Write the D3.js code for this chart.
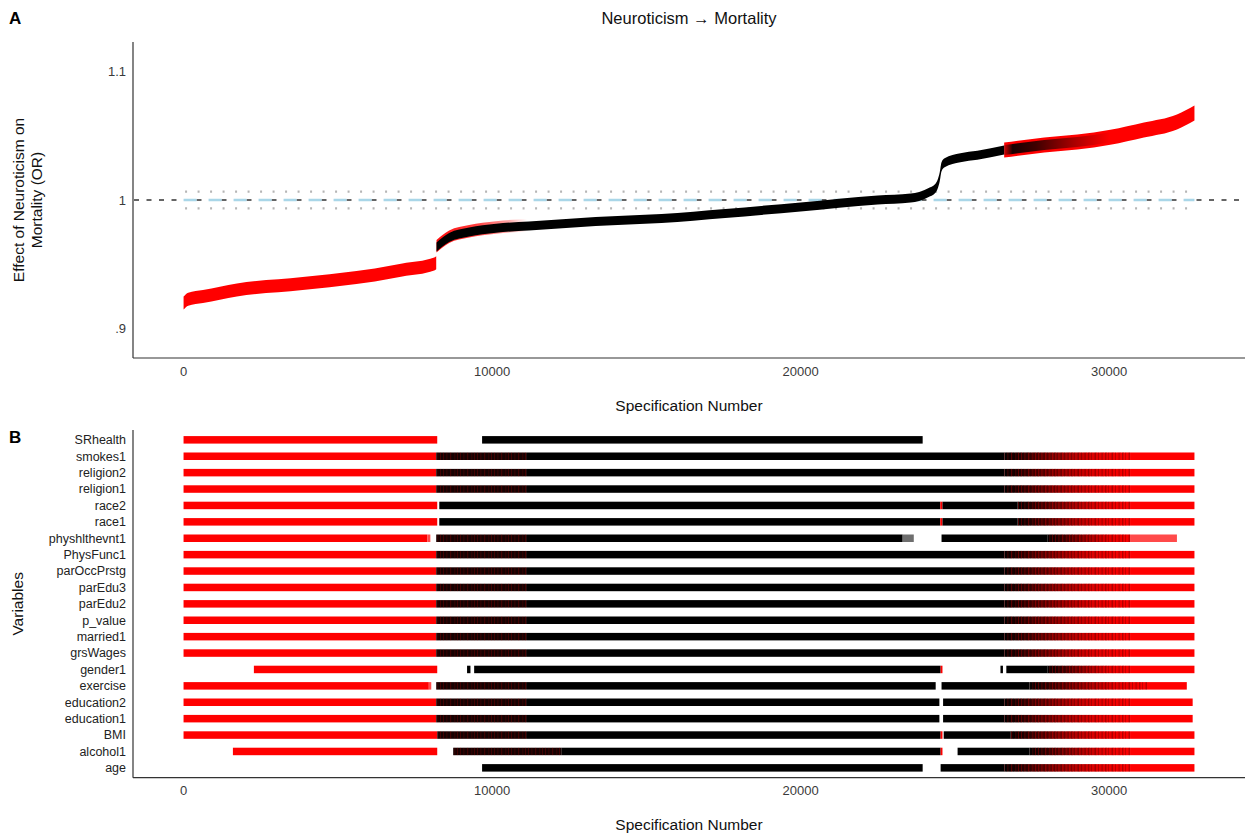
<!DOCTYPE html>
<html>
<head>
<meta charset="utf-8">
<script src="https://cdn.jsdelivr.net/npm/d3@7"></script>
<style>
  body { margin: 0; background: #fff; }
  text { font-family: "Liberation Sans", Arial, sans-serif; }
</style>
</head>
<body>
<svg id="chart" width="1256" height="835"></svg>
<script>
// ---- Specification curve: odds ratio by sorted specification number ----
const curveSpec = [1, 150, 630, 1729, 3861, 5606, 6200, 7092, 8126, 8190,
                   8200, 8610, 9257, 10129, 11195, 13360, 15493, 17560, 20000, 22500,
                   23570, 24120, 24380, 24510, 24570, 24670, 25180, 25730, 26600,
                   27900, 28970, 30040, 31130, 32200, 32768];
const curveOR = [0.9195, 0.9225, 0.9246, 0.9297, 0.9348, 0.9395, 0.9414, 0.9453, 0.9500, 0.9510,
                 0.9633, 0.9707, 0.9750, 0.9780, 0.9797, 0.9832, 0.9855, 0.9895, 0.9945, 1.0000,
                 1.0015, 1.0055, 1.0094, 1.0180, 1.0260, 1.0290, 1.0330, 1.0350, 1.0390,
                 1.0430, 1.0453, 1.0490, 1.0547, 1.0610, 1.0680];

// significance breaks along the curve
const sigLowEnd = 8190;      // last significant (negative) specification
const nonsigStart = 8200;    // first non-significant specification
const sigHighStart = 26600;  // first significant (positive) specification
const mixedEnd = 30040;      // end of the black/red mixed zone
const flecksEnd = 11131;     // end of red flecks above the black band

// null-model reference lines
const nullMedian = 1.0;
const nullBand = [0.9935, 1.0065];

const specRange = [1, 32768];
const xTicks = [0, 10000, 20000, 30000];
const yTicks = [0.9, 1, 1.1];
const yTickLabels = [".9", "1", "1.1"];

// ---- Specification panel: which variables enter each specification ----
const variables = ["SRhealth", "smokes1", "religion2", "religion1", "race2", "race1",
  "physhlthevnt1", "PhysFunc1", "parOccPrstg", "parEdu3", "parEdu2", "p_value",
  "married1", "grsWages", "gender1", "exercise", "education2", "education1",
  "BMI", "alcohol1", "age"];

// [start, end, kind]; kind: red = significant, black = non-significant,
// mixL/mixR = mixed zones, pink = faded red, gray = sparse
const fullRow = [[0, 8190, "red"], [8190, 11131, "mixL"], [11131, 26608, "black"],
                 [26608, 30680, "mixR"], [30680, 32768, "red"]];
const raceRow = [[0, 8223, "red"], [8290, 24530, "black"], [24530, 24600, "red"],
                 [24600, 27030, "black"], [27030, 30680, "mixR"], [30680, 32768, "red"]];
const educationRow = [[0, 8190, "red"], [8190, 11131, "mixL"], [11131, 24500, "black"],
                      [24620, 26608, "black"], [26608, 30680, "mixR"], [30680, 32710, "red"]];

const rowSegments = {
  SRhealth: [[0, 8223, "red"], [9677, 23958, "black"]],
  smokes1: fullRow,
  religion2: fullRow,
  religion1: fullRow,
  race2: raceRow,
  race1: raceRow,
  physhlthevnt1: [[0, 7900, "red"], [7900, 8000, "pink"], [8190, 11131, "mixL"],
                  [11131, 23310, "black"], [23310, 23670, "gray"], [24570, 28000, "black"],
                  [28000, 30680, "mixR"], [30680, 32200, "pink"]],
  PhysFunc1: fullRow,
  parOccPrstg: fullRow,
  parEdu3: fullRow,
  parEdu2: fullRow,
  p_value: fullRow,
  married1: fullRow,
  grsWages: fullRow,
  gender1: [[2280, 8223, "red"], [9190, 9300, "black"], [9420, 24540, "black"],
            [24540, 24600, "red"], [26480, 26560, "black"], [26670, 28000, "black"],
            [28000, 30680, "mixR"], [30680, 32768, "red"]],
  exercise: [[0, 7950, "red"], [7950, 8030, "pink"], [8190, 11131, "mixL"],
             [11131, 24380, "black"], [24570, 27420, "black"], [27420, 31230, "mixR"],
             [31230, 32520, "red"]],
  education2: educationRow,
  education1: educationRow,
  BMI: [[0, 8223, "red"], [8223, 11131, "mixL"], [11131, 24540, "black"],
        [24540, 24600, "red"], [24640, 26800, "black"], [26800, 30680, "mixR"],
        [30680, 32768, "red"]],
  alcohol1: [[1600, 8223, "red"], [8740, 12260, "mixL"], [12260, 24540, "black"],
             [24540, 24600, "red"], [25090, 27420, "black"], [27420, 30680, "mixR"],
             [30680, 32768, "red"]],
  age: [[9677, 23958, "black"], [24540, 26608, "black"], [26608, 30680, "mixR"],
        [30680, 32768, "red"]]
};

// ---- layout ----
const svg = d3.select("#chart");
const defs = svg.append("defs");
const plotLeft = 133, plotRight = 1245;
const topPanel = { top: 42, bottom: 358 };
const botPanel = { top: 430, bottom: 777.7 };
const axisColor = "#333";
const tickColor = "#3a3a3a";

const pad = (specRange[1] - specRange[0] + 1) * 0.05;
const x = d3.scaleLinear().domain([0 - pad, specRange[1] + pad]).range([plotLeft, plotRight]);
const y = d3.scaleLinear().domain([0.8766, 1.1234]).range([topPanel.bottom, topPanel.top]);
const yRow = d3.scalePoint().domain(variables).range([botPanel.top, botPanel.bottom]).padding(0.6);

const curve = curveSpec.map((s, i) => ({ s, v: curveOR[i] }));
const band = h => d3.area()
  .x(d => x(d.s))
  .y0(d => y(d.v) + h)
  .y1(d => y(d.v) - h)
  .curve(d3.curveMonotoneX);

// streak textures for the overlapping red / black tick zones
function streakPattern(id, color, lines) {
  const p = defs.append("pattern").attr("id", id)
    .attr("patternUnits", "userSpaceOnUse").attr("width", 17).attr("height", 20);
  lines.forEach(([lx, lw]) =>
    p.append("rect").attr("x", lx).attr("y", 0).attr("width", lw).attr("height", 20).attr("fill", color));
}
streakPattern("streakRed", "#e00000", [[1, 1], [4.5, 0.8], [8, 1.2], [12.5, 0.7], [15, 1]]);
streakPattern("streakDark", "#1a0000", [[0, 1.3], [3, 0.8], [6.5, 1.5], [10, 0.9], [13.5, 1.2]]);

// panel letters and title
svg.append("text").attr("x", 9).attr("y", 24).attr("font-size", 17).attr("font-weight", "bold").text("A");
svg.append("text").attr("x", 9).attr("y", 443).attr("font-size", 17).attr("font-weight", "bold").text("B");
svg.append("text").attr("x", (plotLeft + plotRight) / 2).attr("y", 24)
  .attr("text-anchor", "middle").attr("font-size", 16.5).attr("fill", "#111")
  .text("Neuroticism \u2192 Mortality");

// ---- panel A ----
const gA = svg.append("g");

// reference line at OR = 1
gA.append("line")
  .attr("x1", plotLeft).attr("x2", plotRight)
  .attr("y1", y(1)).attr("y2", y(1))
  .attr("stroke", "#333").attr("stroke-width", 1.4)
  .attr("stroke-dasharray", "5,7.5").attr("stroke-dashoffset", 11.5);

// null-model median and interval
gA.append("line")
  .attr("x1", x(specRange[0])).attr("x2", x(specRange[1]))
  .attr("y1", y(nullMedian)).attr("y2", y(nullMedian))
  .attr("stroke", "#a9d6e8").attr("stroke-width", 2.6)
  .attr("stroke-dasharray", "13,12");
nullBand.forEach(v => {
  gA.append("line")
    .attr("x1", x(specRange[0])).attr("x2", x(specRange[1]))
    .attr("y1", y(v)).attr("y2", y(v))
    .attr("stroke", "#b5b5b5").attr("stroke-width", 2.2)
    .attr("stroke-dasharray", "2,10.5").attr("stroke-dashoffset", -1.5);
});

// significant negative effects
gA.append("path")
  .datum(curve.filter(d => d.s <= sigLowEnd))
  .attr("d", band(6.5)).attr("fill", "#ff0000");

// red flecks riding above the black band right after the jump
const fleckFade = defs.append("linearGradient").attr("id", "fleckFade")
  .attr("gradientUnits", "userSpaceOnUse")
  .attr("x1", x(nonsigStart)).attr("x2", x(flecksEnd)).attr("y1", 0).attr("y2", 0);
[[0, 0.95], [0.45, 0.75], [0.8, 0.35], [1, 0]].forEach(([o, a]) =>
  fleckFade.append("stop").attr("offset", o).attr("stop-color", "#ff0000").attr("stop-opacity", a));
gA.append("path")
  .datum(curve.filter(d => d.s >= nonsigStart && d.s <= flecksEnd + 1000))
  .attr("d", d3.area()
    .x(d => x(d.s))
    .y0(d => y(d.v) + 5.5)
    .y1(d => y(d.v) - 7)
    .curve(d3.curveMonotoneX))
  .attr("fill", "url(#fleckFade)");

// significant positive effects
gA.append("path")
  .datum(curve.filter(d => d.s >= sigHighStart))
  .attr("d", band(7.5)).attr("fill", "#ff0000");

// black marks fading out into the red zone
const fade = defs.append("linearGradient").attr("id", "fadeBlack")
  .attr("gradientUnits", "userSpaceOnUse")
  .attr("x1", x(sigHighStart)).attr("x2", x(mixedEnd)).attr("y1", 0).attr("y2", 0);
[[0, 0.15], [0.08, 0.9], [0.3, 0.75], [0.65, 0.35], [1, 0]].forEach(([o, a]) =>
  fade.append("stop").attr("offset", o).attr("stop-color", "#000").attr("stop-opacity", a));
gA.append("path")
  .datum(curve.filter(d => d.s >= sigHighStart && d.s <= mixedEnd + 1100))
  .attr("d", band(5)).attr("fill", "url(#fadeBlack)");

// non-significant effects
gA.append("path")
  .datum(curve.filter(d => d.s >= nonsigStart && d.s <= sigHighStart))
  .attr("d", band(4.5)).attr("fill", "#000");

// axes (lines and labels only)
gA.append("line").attr("x1", plotLeft).attr("x2", plotLeft)
  .attr("y1", topPanel.top).attr("y2", topPanel.bottom)
  .attr("stroke", axisColor).attr("stroke-width", 1.2);
gA.append("line").attr("x1", plotLeft).attr("x2", plotRight)
  .attr("y1", topPanel.bottom).attr("y2", topPanel.bottom)
  .attr("stroke", axisColor).attr("stroke-width", 1.2);
gA.selectAll(".ytick").data(yTicks).join("text")
  .attr("x", 126).attr("y", d => y(d) + 4.5)
  .attr("text-anchor", "end").attr("font-size", 13).attr("fill", tickColor)
  .text((d, i) => yTickLabels[i]);
gA.selectAll(".xtick").data(xTicks).join("text")
  .attr("x", d => x(d)).attr("y", topPanel.bottom + 18)
  .attr("text-anchor", "middle").attr("font-size", 13).attr("fill", tickColor)
  .text(d => d);
gA.append("text").attr("x", (plotLeft + plotRight) / 2).attr("y", 411)
  .attr("text-anchor", "middle").attr("font-size", 15.5).attr("fill", "#111")
  .text("Specification Number");
const yTitle = gA.append("text")
  .attr("transform", `translate(0,${(topPanel.top + topPanel.bottom) / 2}) rotate(-90)`)
  .attr("text-anchor", "middle").attr("font-size", 15.5).attr("fill", "#111");
yTitle.append("tspan").attr("x", 0).attr("y", 24).text("Effect of Neuroticism on");
yTitle.append("tspan").attr("x", 0).attr("y", 42).text("Mortality (OR)");

// ---- panel B ----
const gB = svg.append("g");
const barH = 7.5;
const solidFill = { red: "#ff0000", black: "#000", mixL: "#160101", pink: "#ff4a4a", gray: "#6e6e6e" };

let gradId = 0;
variables.forEach(v => {
  rowSegments[v].forEach(([s0, s1, kind]) => {
    let fill = solidFill[kind];
    if (kind === "mixR") {
      const id = "mix" + (gradId++);
      const g = defs.append("linearGradient").attr("id", id)
        .attr("gradientUnits", "userSpaceOnUse")
        .attr("x1", x(s0)).attr("x2", x(s1)).attr("y1", 0).attr("y2", 0);
      [[0, "#000"], [0.1, "#1a0000"], [0.3, "#5c0000"], [0.5, "#a00000"],
       [0.72, "#e00000"], [1, "#ff0000"]].forEach(([o, c]) =>
        g.append("stop").attr("offset", o).attr("stop-color", c));
      fill = `url(#${id})`;
    }
    const attrs = sel => sel
      .attr("x", x(s0)).attr("width", Math.max(1, x(s1) - x(s0)))
      .attr("y", yRow(v) - barH / 2).attr("height", barH);
    gB.append("rect").call(attrs).attr("fill", fill);
    // streak texture on mixed zones
    if (kind === "mixR") {
      gB.append("rect").call(attrs).attr("fill", "url(#streakRed)").attr("opacity", 0.35);
      gB.append("rect").call(attrs).attr("fill", "url(#streakDark)").attr("opacity", 0.3);
    }
    if (kind === "mixL") {
      gB.append("rect").call(attrs).attr("fill", "url(#streakRed)").attr("opacity", 0.22);
    }
  });
});

gB.append("line").attr("x1", plotLeft).attr("x2", plotLeft)
  .attr("y1", botPanel.top).attr("y2", botPanel.bottom)
  .attr("stroke", axisColor).attr("stroke-width", 1.2);
gB.append("line").attr("x1", plotLeft).attr("x2", plotRight)
  .attr("y1", botPanel.bottom).attr("y2", botPanel.bottom)
  .attr("stroke", axisColor).attr("stroke-width", 1.2);
gB.selectAll(".vlabel").data(variables).join("text")
  .attr("x", 126).attr("y", d => yRow(d) + 4.3)
  .attr("text-anchor", "end").attr("font-size", 12.5).attr("fill", "#222")
  .text(d => d);
gB.selectAll(".xtick").data(xTicks).join("text")
  .attr("x", d => x(d)).attr("y", botPanel.bottom + 17)
  .attr("text-anchor", "middle").attr("font-size", 13).attr("fill", tickColor)
  .text(d => d);
gB.append("text").attr("x", (plotLeft + plotRight) / 2).attr("y", 830)
  .attr("text-anchor", "middle").attr("font-size", 15.5).attr("fill", "#111")
  .text("Specification Number");
gB.append("text")
  .attr("transform", `translate(23,${(botPanel.top + botPanel.bottom) / 2}) rotate(-90)`)
  .attr("text-anchor", "middle").attr("font-size", 15.5).attr("fill", "#111")
  .text("Variables");
</script>
</body>
</html>
